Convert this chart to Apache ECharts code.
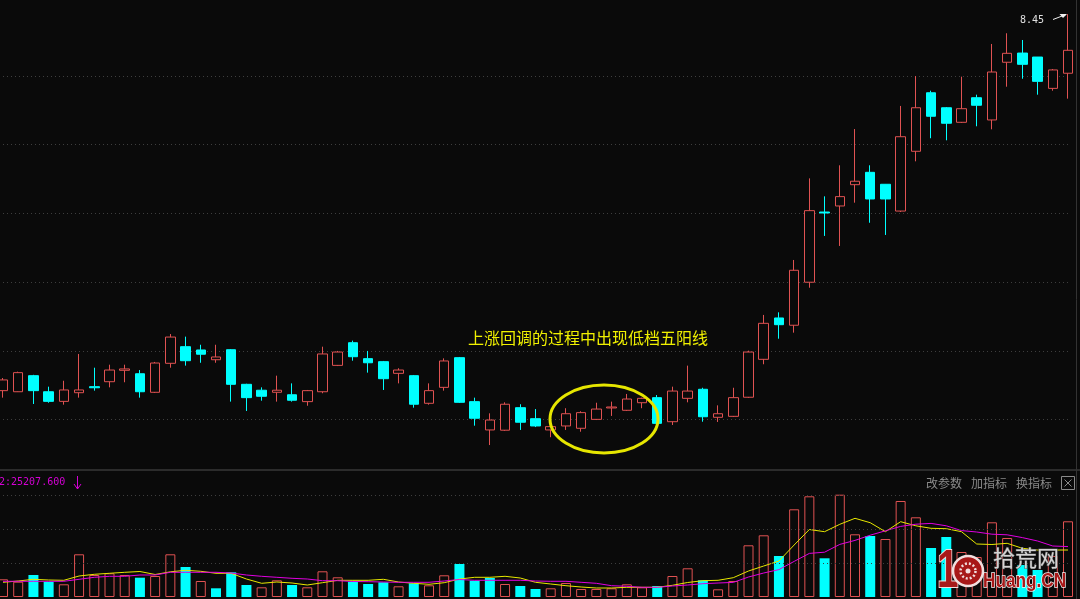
<!DOCTYPE html>
<html><head><meta charset="utf-8">
<script src="https://cdn.jsdelivr.net/npm/echarts@6/dist/echarts.min.js"></script>
<style>html,body{margin:0;padding:0;background:#0a0a0a;}#c{width:1080px;height:599px;}</style>
</head><body><div id="c"></div>
<script>
const opens = [5.710,5.702,5.819,5.702,5.632,5.695,5.739,5.775,5.858,5.833,
5.698,5.909,6.030,6.006,5.935,6.008,5.756,5.713,5.698,5.680,
5.630,5.702,5.894,6.059,5.943,5.921,5.836,5.819,5.618,5.734,
5.950,5.630,5.424,5.422,5.586,5.506,5.424,5.453,5.436,5.501,
5.584,5.567,5.622,5.659,5.484,5.654,5.720,5.516,5.523,5.662,
5.938,6.239,6.186,6.499,7.010,7.054,7.209,7.299,7.212,7.017,
7.452,7.878,7.769,7.663,7.842,7.680,8.100,8.167,8.138,7.910,8.020];
const closes = [5.788,5.841,5.710,5.632,5.715,5.715,5.731,5.860,5.868,5.702,
5.911,6.100,5.928,5.975,5.955,5.756,5.659,5.669,5.713,5.640,
5.710,5.977,5.991,5.957,5.913,5.797,5.860,5.611,5.710,5.926,
5.625,5.509,5.496,5.611,5.480,5.453,5.448,5.542,5.550,5.576,
5.591,5.649,5.654,5.472,5.707,5.707,5.520,5.542,5.659,5.991,
6.200,6.190,6.586,7.020,7.003,7.122,7.234,7.105,7.105,7.558,
7.769,7.707,7.656,7.762,7.787,8.029,8.165,8.085,7.961,8.044,8.187];
const lows = [5.659,5.700,5.613,5.622,5.608,5.659,5.710,5.734,5.771,5.659,
5.693,5.877,5.892,5.913,5.913,5.630,5.562,5.637,5.630,5.630,
5.600,5.691,5.889,5.928,5.841,5.715,5.763,5.586,5.608,5.710,
5.620,5.455,5.314,5.417,5.424,5.445,5.371,5.424,5.411,5.496,
5.526,5.562,5.582,5.467,5.460,5.625,5.484,5.482,5.518,5.657,
5.902,6.088,6.132,6.459,6.836,6.763,7.078,6.932,6.843,7.010,
7.379,7.547,7.532,7.658,7.634,7.612,7.922,7.980,7.864,7.893,7.835];
const highs = [5.802,5.848,5.825,5.739,5.782,5.977,5.877,5.899,5.899,5.860,
5.919,6.122,6.103,6.044,6.044,6.013,5.760,5.734,5.819,5.763,
5.715,6.030,5.999,6.074,5.999,5.926,5.873,5.824,5.763,5.945,
5.955,5.659,5.545,5.625,5.611,5.576,5.453,5.582,5.560,5.622,
5.630,5.686,5.659,5.678,5.739,5.892,5.731,5.603,5.731,6.001,
6.261,6.280,6.661,7.255,7.124,7.350,7.614,7.350,7.214,7.782,
8.000,7.893,7.774,7.995,7.864,8.233,8.311,8.262,8.138,8.051,8.450];
const volumes = [8850,7650,11000,7650,6350,21350,11000,11850,11000,9650,
10500,21350,15000,8000,4350,12350,6000,4850,8350,6000,
4850,12850,9850,7650,6500,7350,5350,6850,5850,10850,
16500,8150,9500,6500,5500,4000,4350,7000,4000,4000,
4350,6350,4850,5500,10500,14350,8350,3850,8000,25850,
30850,20500,43850,50350,19350,51150,31350,30500,29000,48000,
39850,24500,30000,22500,20000,37350,29500,16000,13500,20500,37850];
const volDir = [1,1,-1,-1,1,1,1,1,1,-1,
1,1,-1,1,-1,-1,-1,1,1,-1,
1,1,1,-1,-1,-1,1,-1,1,1,
-1,-1,-1,1,-1,-1,1,1,1,1,
1,1,1,-1,1,1,-1,1,1,1,
1,-1,1,1,-1,1,1,-1,1,1,
1,-1,-1,1,1,1,1,-1,-1,1,1];
const volMA5 = [7350,8000,8850,8500,8350,10500,11350,11850,12350,12750,
11250,12600,13350,12850,11850,11850,9000,6850,7500,7000,
6000,7150,8350,8350,8350,8850,7500,6850,6350,7150,
9000,9850,9850,10350,9500,7350,6500,5650,5000,4500,
4500,4850,4850,4850,5850,7250,8150,8350,9650,13000,
15500,18000,26000,33750,32650,36350,39350,37150,32650,37650,
35600,34350,34150,32650,26500,26250,26850,24350,23500,23500,23500];
const volMA10 = [7850,7850,7850,7850,7850,8850,9850,10350,10350,11000,
11000,12350,12350,12350,12350,12000,11000,10350,9850,9350,
9000,8150,8150,7750,7650,7500,7350,7350,7350,8000,
8750,8350,8350,8350,8350,8000,7850,7850,7350,6850,
5650,5350,4850,4850,5500,6000,6650,7000,7300,10000,
12000,13700,17800,21800,22400,26300,28300,30900,33100,35300,
36400,36800,35600,33200,32500,31400,31100,29700,28000,25500,25207.6];
const priceGridLevels = [5.5,6.0,6.5,7.0,7.5,8.0];
const volGridLevels = [17000,34000,51000];
const highLabel = '8.45';
const volLabel = '2:25207.600';
const noteText = '上涨回调的过程中出现低档五阳线';
const buttons = ['改参数','加指标','换指标'];
const days = opens.map((_, i) => 'D' + (i + 1));

const RED = '#e05252', CYAN = '#00ffff', BG = '#0a0a0a';
const gridLine = {color:'#3e3e3e', type:[1,3], width:1};

const chart = echarts.init(document.getElementById('c'), null, {renderer:'canvas'});
const candleData = opens.map((o, i) => [o, closes[i], lows[i], highs[i]]);
const volData = volumes.map((v, i) => ({
  value: v,
  itemStyle: volDir[i] > 0 ? {color: BG, borderColor: RED, borderWidth: 1} : {color: CYAN, borderColor: CYAN, borderWidth: 0}
}));

function txt(x, y, text, fill, font, extraStyle, extra) {
  return Object.assign({type:'text', x:x, y:y, silent:true, z:100,
    style:Object.assign({text:text, fill:fill, font:font, align:'left', verticalAlign:'middle', textAlign:'left', textVerticalAlign:'middle'}, extraStyle || {})}, extra || {});
}

chart.setOption({
  backgroundColor: BG,
  animation: false,
  grid: [
    {left:3, right:12, top:0, height:470},
    {left:3, right:12, top:471, height:126}
  ],
  xAxis: [
    {type:'category', data:days, gridIndex:0, show:false, boundaryGap:false},
    {type:'category', data:days, gridIndex:1, show:false, boundaryGap:false}
  ],
  yAxis: [
    {type:'value', gridIndex:0, min:5.13244, max:8.5531, show:false, splitLine:{show:false}},
    {type:'value', gridIndex:1, min:0, max:63000, show:false, splitLine:{show:false}}
  ],
  series: [
    {type:'candlestick', xAxisIndex:0, yAxisIndex:0, data:candleData, barWidth:10, clip:false,
     itemStyle:{color:BG, color0:CYAN, borderColor:RED, borderColor0:CYAN, borderWidth:1},
     markLine:{silent:true, symbol:['none','none'], label:{show:false}, lineStyle:gridLine,
       emphasis:{disabled:true}, data: priceGridLevels.map(v => ({yAxis:v})), z:0}},
    {type:'bar', xAxisIndex:1, yAxisIndex:1, data:volData, barWidth:10, clip:false,
     markLine:{silent:true, symbol:['none','none'], label:{show:false}, lineStyle:gridLine,
       emphasis:{disabled:true}, data: volGridLevels.map(v => ({yAxis:v}))}},
    {type:'line', xAxisIndex:1, yAxisIndex:1, data:volMA5, showSymbol:false, silent:true,
     lineStyle:{color:'#e8e800', width:1}},
    {type:'line', xAxisIndex:1, yAxisIndex:1, data:volMA10, showSymbol:false, silent:true,
     lineStyle:{color:'#e000e0', width:1}}
  ],
  graphic: [
    {type:'line', silent:true, z:50, shape:{x1:0, y1:76.5, x2:3, y2:76.5}, style:{stroke:'#0a0a0a', lineWidth:1}},
    {type:'rect', silent:true, z:50, shape:{x:0, y:469, width:1080, height:2}, style:{fill:'#2c2c2c'}},
    {type:'line', silent:true, z:50, shape:{x1:1076.5, y1:0, x2:1076.5, y2:599}, style:{stroke:'#333333', lineWidth:1}},
    txt(468, 338, noteText, '#f0f000', '16px "Noto Sans CJK SC"'),
    {type:'ellipse', silent:true, z:100, shape:{cx:604, cy:419, rx:54, ry:34}, style:{fill:'none', stroke:'#e6e600', lineWidth:3}},
    txt(1020, 20, highLabel, '#e0e0e0', '10px "DejaVu Sans Mono"'),
    {type:'polyline', silent:true, z:100, shape:{points:[[1053,19.5],[1066,14.5]]}, style:{stroke:'#f0f0f0', lineWidth:1, fill:'none'}},
    {type:'polygon', silent:true, z:100, shape:{points:[[1067,14],[1059.5,14],[1063,18]]}, style:{fill:'#f0f0f0'}},
    txt(-1, 482, volLabel, '#d400d4', '10px "DejaVu Sans Mono"'),
    {type:'polyline', silent:true, z:100, shape:{points:[[77.5,476],[77.5,489]]}, style:{stroke:'#d400d4', lineWidth:1, fill:'none'}},
    {type:'polyline', silent:true, z:100, shape:{points:[[74,484],[77.5,489],[81,484]]}, style:{stroke:'#d400d4', lineWidth:1, fill:'none'}},
    txt(926, 483, buttons[0], '#8a8a8a', '12px "Noto Sans CJK SC"'),
    txt(971, 483, buttons[1], '#8a8a8a', '12px "Noto Sans CJK SC"'),
    txt(1016, 483, buttons[2], '#8a8a8a', '12px "Noto Sans CJK SC"'),
    {type:'rect', silent:true, z:100, shape:{x:1061.5, y:476.5, width:13, height:13}, style:{fill:'none', stroke:'#8a8a8a', lineWidth:1}},
    {type:'line', silent:true, z:100, shape:{x1:1064.5, y1:479.5, x2:1071.5, y2:486.5}, style:{stroke:'#8a8a8a', lineWidth:1}},
    {type:'line', silent:true, z:100, shape:{x1:1071.5, y1:479.5, x2:1064.5, y2:486.5}, style:{stroke:'#8a8a8a', lineWidth:1}},
    /* watermark */
    txt(937, 572, '1', '#a81818', 'bold 54px "Liberation Sans"', {stroke:'#f2dede', lineWidth:2}, {scaleX:0.72}),
    {type:'circle', silent:true, z:100, shape:{cx:968, cy:571, r:15}, style:{fill:'#a81818', stroke:'#f2dede', lineWidth:2.5}},
    {type:'circle', silent:true, z:101, shape:{cx:968, cy:571, r:7.5}, style:{fill:'none', stroke:'#f2dede', lineWidth:2.5, lineDash:[2,2]}},
    {type:'circle', silent:true, z:101, shape:{cx:968, cy:571, r:2.5}, style:{fill:'#f2dede'}},
    txt(993, 558, '拾荒网', '#d4d4d4', '22px "Noto Sans CJK SC"', {stroke:'#555555', lineWidth:1}),
    txt(983, 581, 'Huang.CN', '#a81818', 'bold 20px "Liberation Sans"', {stroke:'#f4f4f4', lineWidth:1.5}, {scaleX:0.86})
  ]
});
</script>
</body></html>
